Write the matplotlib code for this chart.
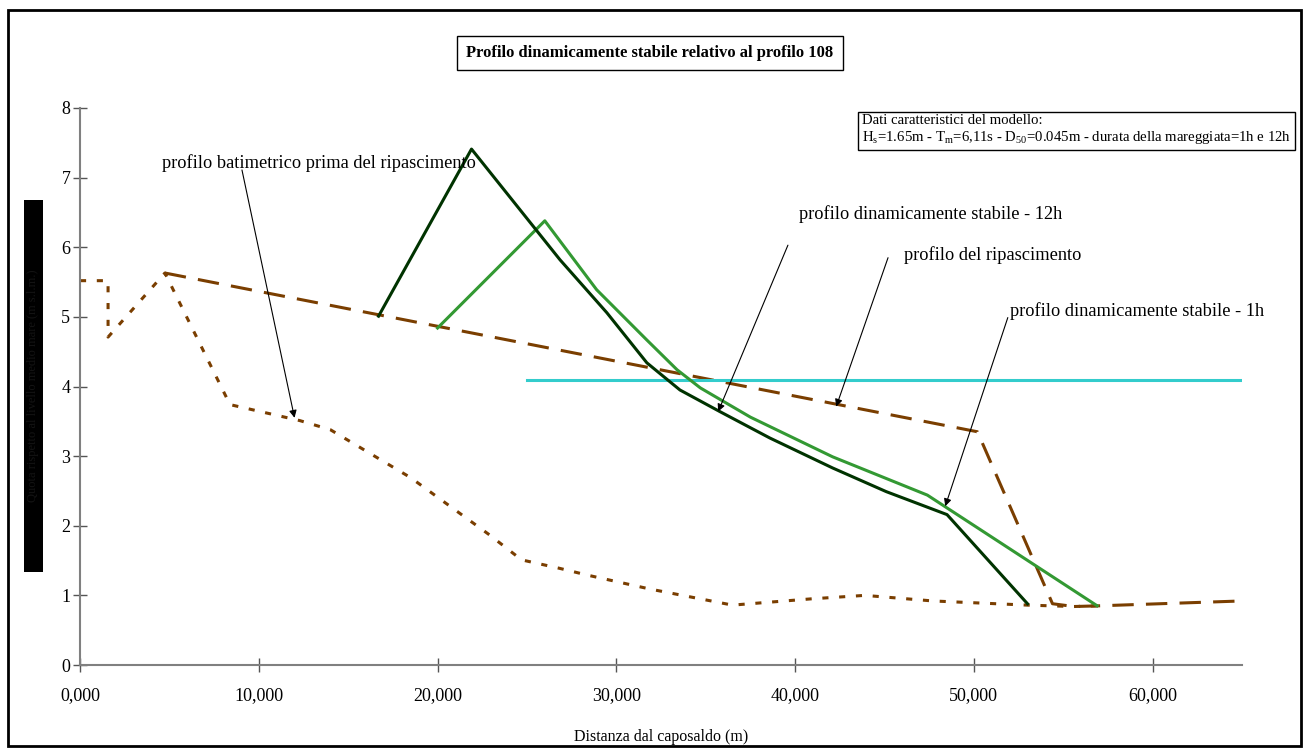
import matplotlib.pyplot as plt
from matplotlib.patches import Rectangle
from matplotlib.ticker import FuncFormatter

plt.rcParams['font.family'] = ['Liberation Serif', 'DejaVu Serif']
plt.rcParams['mathtext.fontset'] = 'custom'
plt.rcParams['mathtext.rm'] = 'Liberation Serif'

# ---------------------------------------------------------------------------
# data (distanza in m, quota in m)
# ---------------------------------------------------------------------------
x_batim = [0.0, 1.57, 1.57, 4.75, 8.39, 12.3, 14.0, 18.5, 22.9, 24.7, 26.8,
           28.4, 31.9, 34.7, 36.5, 40.9, 43.9, 47.7, 53.0, 55.6, 57.0]
y_batim = [5.52, 5.52, 4.71, 5.63, 3.74, 3.51, 3.38, 2.69, 1.87, 1.51, 1.39,
           1.29, 1.09, 0.95, 0.86, 0.95, 1.00, 0.92, 0.86, 0.84, 0.85]

x_ripasc = [4.75, 50.2, 54.4, 55.6, 57.0, 65.0]
y_ripasc = [5.63, 3.35, 0.88, 0.84, 0.85, 0.92]

x_12h = [16.7, 21.9, 26.85, 29.47, 31.71, 33.56, 35.79, 38.59, 42.1, 45.1, 48.5, 53.0]
y_12h = [5.01, 7.41, 5.82, 5.06, 4.34, 3.95, 3.64, 3.26, 2.83, 2.49, 2.16, 0.88]

x_1h = [20.0, 26.0, 28.9, 31.7, 33.4, 34.7, 37.5, 42.1, 47.4, 56.9]
y_1h = [4.84, 6.38, 5.39, 4.67, 4.24, 3.98, 3.56, 2.99, 2.44, 0.85]

x_livello = [25.0, 65.0]
y_livello = [4.1, 4.1]

x_ticks = [0, 10, 20, 30, 40, 50, 60]
y_ticks = [0, 1, 2, 3, 4, 5, 6, 7, 8]

# ---------------------------------------------------------------------------
# plot
# ---------------------------------------------------------------------------
fig = plt.figure(figsize=(13.1, 7.54), dpi=100)
ax = fig.add_axes([80 / 1310, 1 - 665 / 754, 1162 / 1310, 557 / 754])

brown = '#7a3e00'
ax.plot(x_batim, y_batim, color=brown, lw=2.2, linestyle=(0, (2, 3.5)))
ax.plot(x_ripasc, y_ripasc, color=brown, lw=2.2, linestyle=(0, (7, 4)))
ax.plot(x_livello, y_livello, color='#33cccc', lw=2.2)
ax.plot(x_1h, y_1h, color='#339933', lw=2.2)
ax.plot(x_12h, y_12h, color='#003300', lw=2.2)

ax.set_xlim(0, 65)
ax.set_ylim(0, 8)
ax.set_xticks(x_ticks)
ax.set_yticks(y_ticks)
ax.xaxis.set_major_formatter(FuncFormatter(lambda v, p: f"{v:.3f}".replace('.', ',')))
for s in ['top', 'right']:
    ax.spines[s].set_visible(False)
for s in ['left', 'bottom']:
    ax.spines[s].set_color('#808080')
    ax.spines[s].set_linewidth(1.5)
ax.tick_params(axis='both', direction='inout', length=10, width=1, color='#555555',
               labelsize=13)
ax.tick_params(axis='x', pad=11)
ax.tick_params(axis='y', pad=2)
ax.set_xlabel('Distanza dal caposaldo (m)', fontsize=11.5, labelpad=18)

ann_fs = 13.2
arr = dict(arrowstyle='-|>', color='black', lw=0.8, mutation_scale=11, shrinkA=0, shrinkB=0)
ax.annotate('', xy=(12.0, 3.55), xytext=(9.06, 7.11), arrowprops=arr)
ax.text(4.59, 7.21, 'profilo batimetrico prima del ripascimento', fontsize=ann_fs, va='center')
ax.annotate('', xy=(35.7, 3.64), xytext=(39.6, 6.03), arrowprops=arr)
ax.text(40.2, 6.47, 'profilo dinamicamente stabile - 12h', fontsize=ann_fs, va='center')
ax.annotate('', xy=(42.3, 3.71), xytext=(45.2, 5.85), arrowprops=arr)
ax.text(46.1, 5.89, 'profilo del ripascimento', fontsize=ann_fs, va='center')
ax.annotate('', xy=(48.4, 2.28), xytext=(51.9, 4.99), arrowprops=arr)
ax.text(52.0, 5.09, 'profilo dinamicamente stabile - 1h', fontsize=ann_fs, va='center')

# title box
fig.text(650 / 1310, 1 - 53 / 754, 'Profilo dinamicamente stabile relativo al profilo 108',
         ha='center', va='center', fontsize=12, fontweight='bold',
         bbox=dict(facecolor='white', edgecolor='black', lw=1, boxstyle='square,pad=0.55'))

# info box
fig.text(862 / 1310, 1 - 130 / 754,
         'Dati caratteristici del modello:\n'
         r'H$_\mathrm{s}$=1.65m - T$_\mathrm{m}$=6,11s - D$_\mathrm{50}$=0.045m - durata della mareggiata=1h e 12h',
         ha='left', va='center', fontsize=10.6, linespacing=1.2,
         bbox=dict(facecolor='white', edgecolor='black', lw=1, boxstyle='square,pad=0.25'))

# y label (black block)
fig.patches.append(Rectangle((24 / 1310, 1 - 572 / 754), 19 / 1310, 372 / 754,
                             transform=fig.transFigure, facecolor='black', edgecolor='none'))
fig.text(33.5 / 1310, 1 - 386 / 754, 'Quota rispetto al livello medio mare (m s.l.m.)',
         rotation=90, ha='center', va='center', fontsize=9, color='#141414')

# outer frame
fig.patches.append(Rectangle((8 / 1310, 1 - 746 / 754), 1293 / 1310, 736 / 754,
                             transform=fig.transFigure, fill=False, edgecolor='black', lw=2))

fig.savefig('out.png', dpi=100)
